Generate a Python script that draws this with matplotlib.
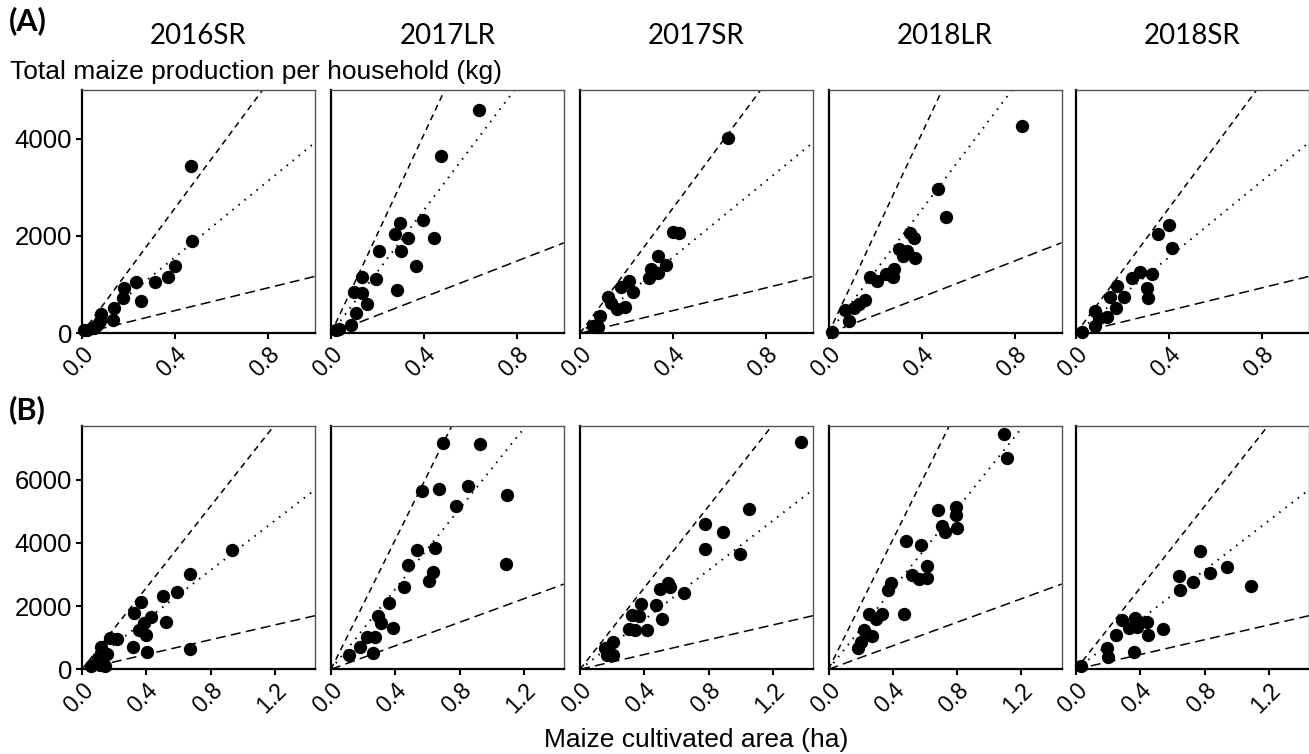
import matplotlib
matplotlib.use("Agg")
import matplotlib.pyplot as plt

seasons = ['2016SR', '2017LR', '2017SR', '2018LR', '2018SR']

# reference lines (kg/ha), short-rain vs long-rain seasons
sr_slopes = [6450, 3920, 1170]
lr_slopes = [10250, 6350, 1860]

# (A) panel data: cultivated area (ha) and production (kg)
a_2016sr_x = [0.468, 0.473, 0.40, 0.37, 0.312, 0.23, 0.252, 0.18, 0.176, 0.138, 0.131, 0.081, 0.077, 0.063, 0.05, 0.02, 0.01, 0.043]
a_2016sr_y = [3430, 1900, 1380, 1150, 1060, 1060, 670, 940, 730, 530, 270, 390, 260, 170, 100, 70, 70, 100]
a_2017lr_x = [0.635, 0.471, 0.396, 0.298, 0.276, 0.330, 0.441, 0.205, 0.300, 0.363, 0.134, 0.195, 0.285, 0.098, 0.131, 0.155, 0.108, 0.084, 0.034, 0.02]
a_2017lr_y = [4595, 3643, 2324, 2277, 2031, 1949, 1961, 1694, 1688, 1387, 1161, 1114, 888, 853, 820, 595, 410, 170, 82, 60]
a_2017sr_x = [0.635, 0.398, 0.423, 0.333, 0.367, 0.303, 0.336, 0.296, 0.209, 0.178, 0.228, 0.121, 0.135, 0.192, 0.157, 0.085, 0.057, 0.078]
a_2017sr_y = [4012, 2084, 2057, 1592, 1401, 1319, 1243, 1141, 1073, 944, 853, 751, 628, 546, 492, 355, 150, 123]
a_2018lr_x = [0.830, 0.471, 0.503, 0.349, 0.367, 0.302, 0.337, 0.320, 0.370, 0.282, 0.246, 0.276, 0.178, 0.209, 0.157, 0.132, 0.110, 0.071, 0.087, 0.014]
a_2018lr_y = [4252, 2960, 2393, 2064, 1961, 1723, 1688, 1586, 1551, 1313, 1216, 1149, 1161, 1073, 683, 595, 513, 478, 258, 20]
a_2018sr_x = [0.398, 0.353, 0.412, 0.273, 0.327, 0.242, 0.303, 0.310, 0.178, 0.146, 0.206, 0.171, 0.135, 0.082, 0.099, 0.082, 0.024]
a_2018sr_y = [2228, 2031, 1756, 1264, 1216, 1141, 935, 718, 976, 751, 738, 513, 341, 464, 308, 156, 33]

# (B) panel data
b_2016sr_x = [0.932, 0.669, 0.594, 0.501, 0.369, 0.322, 0.432, 0.523, 0.383, 0.353, 0.397, 0.318, 0.402, 0.670, 0.220, 0.176, 0.119, 0.158, 0.100, 0.087, 0.114, 0.056, 0.145]
b_2016sr_y = [3767, 3020, 2460, 2330, 2116, 1778, 1661, 1484, 1452, 1230, 1072, 695, 537, 636, 968, 988, 705, 494, 346, 189, 136, 104, 104]
b_2017lr_x = [0.695, 0.928, 0.565, 0.669, 0.853, 1.094, 0.781, 0.533, 0.650, 0.482, 0.636, 0.608, 1.086, 0.457, 0.363, 0.293, 0.312, 0.384, 0.222, 0.276, 0.181, 0.110, 0.264]
b_2017lr_y = [7155, 7136, 5630, 5715, 5810, 5513, 5156, 3789, 3840, 3303, 3072, 2779, 3334, 2589, 2084, 1693, 1452, 1295, 1030, 1030, 714, 452, 505]
b_2017sr_x = [1.377, 1.053, 0.779, 0.889, 0.779, 0.995, 0.546, 0.561, 0.498, 0.650, 0.380, 0.474, 0.322, 0.370, 0.513, 0.307, 0.343, 0.419, 0.208, 0.156, 0.170, 0.204]
b_2017sr_y = [7187, 5083, 4588, 4346, 3820, 3662, 2735, 2608, 2535, 2420, 2052, 2030, 1714, 1683, 1588, 1263, 1241, 1241, 872, 682, 452, 452]
b_2018lr_x = [1.090, 1.111, 0.679, 0.796, 0.796, 0.706, 0.727, 0.800, 0.484, 0.578, 0.613, 0.520, 0.565, 0.613, 0.389, 0.370, 0.467, 0.249, 0.336, 0.297, 0.218, 0.272, 0.204, 0.183]
b_2018lr_y = [7452, 6682, 5030, 5134, 4872, 4525, 4346, 4484, 4051, 3947, 3271, 2978, 2851, 2905, 2716, 2504, 1737, 1737, 1746, 1579, 1241, 1051, 872, 682]
b_2018sr_x = [0.773, 0.941, 0.831, 0.639, 0.727, 0.650, 1.090, 0.287, 0.369, 0.394, 0.442, 0.332, 0.378, 0.540, 0.450, 0.249, 0.191, 0.197, 0.363, 0.029]
b_2018sr_y = [3735, 3240, 3050, 2956, 2766, 2504, 2630, 1557, 1610, 1503, 1503, 1295, 1345, 1263, 1083, 1083, 663, 379, 556, 104]

row_a = [(a_2016sr_x, a_2016sr_y), (a_2017lr_x, a_2017lr_y), (a_2017sr_x, a_2017sr_y),
         (a_2018lr_x, a_2018lr_y), (a_2018sr_x, a_2018sr_y)]
row_b = [(b_2016sr_x, b_2016sr_y), (b_2017lr_x, b_2017lr_y), (b_2017sr_x, b_2017sr_y),
         (b_2018lr_x, b_2018lr_y), (b_2018sr_x, b_2018sr_y)]

W, H = 1309, 754
fig = plt.figure(figsize=(W / 100, H / 100), dpi=100)
plt.rcParams['font.family'] = ['Liberation Sans', 'DejaVu Sans']

lefts = [82, 331, 580, 828.5, 1076]
pw, ph = 233, 243.3
rows = [
    dict(data=row_a, bottom=333.3, xmax=1.0, ymax=5000, xt=[0.0, 0.4, 0.8], yt=[0, 2000, 4000]),
    dict(data=row_b, bottom=669.3, xmax=1.45, ymax=7700, xt=[0.0, 0.4, 0.8, 1.2], yt=[0, 2000, 4000, 6000]),
]

for r, row in enumerate(rows):
    for i, (xs, ys) in enumerate(row['data']):
        ax = fig.add_axes([lefts[i] / W, (H - row['bottom']) / H, pw / W, ph / H])
        slopes = lr_slopes if 'LR' in seasons[i] else sr_slopes
        xm = row['xmax']
        ax.plot([0, xm], [0, slopes[0] * xm], color='black', lw=1.1, ls=(0, (4, 3)))
        ax.plot([0, xm], [0, slopes[1] * xm], color='black', lw=1.4, ls=(0, (0.8, 3.2)))
        ax.plot([0, xm], [0, slopes[2] * xm], color='black', lw=1.1, ls=(0, (6.5, 3.5)))
        ax.scatter(xs, ys, s=92, color='black', zorder=5, clip_on=False, linewidths=0)
        ax.set_xlim(0, xm)
        ax.set_ylim(0, row['ymax'])
        ax.set_xticks(row['xt'])
        ax.set_xticklabels([f'{v:.1f}' for v in row['xt']], rotation=45, ha='right',
                           va='top', rotation_mode='anchor', fontsize=16.5)
        if i == 0:
            ax.set_yticks(row['yt'])
            ax.set_yticklabels([str(v) for v in row['yt']], fontsize=18.5)
        else:
            ax.set_yticks([])
        for side in ['left', 'bottom']:
            ax.spines[side].set_linewidth(1.6)
            ax.spines[side].set_color('black')
        for side in ['top', 'right']:
            ax.spines[side].set_linewidth(1.0)
            ax.spines[side].set_color('#555555')
        ax.tick_params(length=4, width=1.5, pad=3)
        if r == 0:
            ax.set_title(seasons[i], fontsize=20, family='Lato', pad=33)

fig.text(9 / W, 1 - 21 / H, '(A)', fontsize=22, family='Lato', weight='bold', va='center', ha='left')
fig.text(9 / W, 1 - 410 / H, '(B)', fontsize=22, family='Lato', weight='bold', va='center', ha='left')
fig.text(10 / W, 1 - 72 / H, 'Total maize production per household (kg)', fontsize=19, va='center', ha='left')
fig.text(696 / W, 1 - 740 / H, 'Maize cultivated area (ha)', fontsize=19, va='center', ha='center')

fig.savefig('out.png', dpi=100)
